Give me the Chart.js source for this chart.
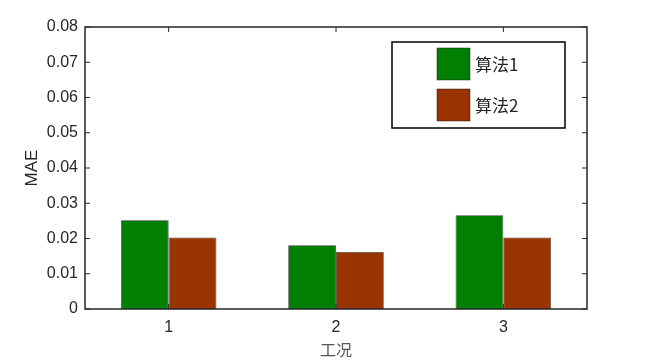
<!DOCTYPE html>
<html>
<head>
<meta charset="utf-8">
<script src="https://cdn.jsdelivr.net/npm/chart.js@4/dist/chart.umd.min.js"></script>
<style>
  html, body { margin: 0; padding: 0; background: #fff; }
  #wrap { width: 650px; height: 361px; }
</style>
</head>
<body>
<div id="wrap"><canvas id="chart"></canvas></div>
<script>
const categories = ['1', '2', '3'];
const seriesNames = ['算法1', '算法2'];
const algo1 = [0.0252, 0.0181, 0.0266];
const algo2 = [0.0203, 0.0162, 0.0203];
const seriesColors = ['#007f00', '#993300'];

const axisColor = '#262626';
const cjkFont = '"Noto Sans CJK SC", serif';
const latinFont = '"Liberation Sans", Arial, sans-serif';

// box around the plot with inward ticks, like the original figure
const boxPlugin = {
    id: 'box',
    afterDatasetsDraw(chart) {
        const { ctx, chartArea: a, scales } = chart;
        ctx.save();
        ctx.strokeStyle = axisColor;
        ctx.lineWidth = 1.5;
        ctx.strokeRect(a.left, a.top, a.right - a.left, a.bottom - a.top);

        ctx.lineWidth = 1;
        ctx.beginPath();
        scales.y.ticks.forEach(t => {
            const y = scales.y.getPixelForValue(t.value);
            ctx.moveTo(a.left, y); ctx.lineTo(a.left + 5, y);
            ctx.moveTo(a.right, y); ctx.lineTo(a.right - 5, y);
        });
        categories.forEach((c, i) => {
            const x = scales.x.getPixelForValue(i);
            ctx.moveTo(x, a.bottom); ctx.lineTo(x, a.bottom - 5);
            ctx.moveTo(x, a.top); ctx.lineTo(x, a.top + 5);
        });
        ctx.stroke();

        // legend
        const lx = 392, ly = 42, lw = 173, lh = 86;
        ctx.fillStyle = '#fff';
        ctx.fillRect(lx, ly, lw, lh);
        ctx.strokeStyle = '#000';
        ctx.lineWidth = 1.5;
        ctx.strokeRect(lx, ly, lw, lh);
        ctx.font = '17px ' + cjkFont;
        ctx.textBaseline = 'middle';
        chart.data.datasets.forEach((ds, i) => {
            const sy = 48 + i * 41;
            ctx.fillStyle = ds.backgroundColor;
            ctx.fillRect(437, sy, 33, 32);
            ctx.strokeStyle = 'rgba(0,0,0,0.6)';
            ctx.lineWidth = 0.7;
            ctx.strokeRect(437, sy, 33, 32);
            ctx.fillStyle = '#222';
            ctx.fillText(ds.label, 475, sy + 17);
        });
        ctx.restore();
    }
};

new Chart(document.getElementById('chart'), {
    type: 'bar',
    data: {
        labels: categories,
        datasets: [
            { label: seriesNames[0], data: algo1, backgroundColor: seriesColors[0] },
            { label: seriesNames[1], data: algo2, backgroundColor: seriesColors[1] }
        ]
    },
    options: {
        responsive: true,
        maintainAspectRatio: false,
        animation: false,
        layout: { padding: { top: 27, right: 63, left: 0, bottom: 0 } },
        datasets: {
            bar: {
                categoryPercentage: 0.571,
                barPercentage: 1,
                borderWidth: 0.8,
                borderColor: 'rgba(0,0,0,0.75)'
            }
        },
        plugins: {
            legend: { display: false },
            tooltip: { enabled: false }
        },
        scales: {
            x: {
                offset: true,
                grid: { display: false, drawTicks: false },
                border: { display: false },
                ticks: { color: axisColor, font: { family: latinFont, size: 16 }, padding: 9 },
                title: {
                    display: true, text: '工况', color: '#555',
                    font: { family: cjkFont, size: 16 },
                    padding: { top: 0, bottom: 1 }
                },
                afterFit(scale) { scale.height = 52; }
            },
            y: {
                min: 0,
                max: 0.08,
                grid: { display: false, drawTicks: false },
                border: { display: false },
                ticks: {
                    stepSize: 0.01,
                    color: axisColor,
                    font: { family: latinFont, size: 16 },
                    padding: 7,
                    callback: v => v === 0 ? '0' : v.toFixed(2)
                },
                title: {
                    display: true, text: 'MAE', color: axisColor,
                    font: { family: latinFont, size: 17 },
                    padding: { top: 22, bottom: 0 }
                },
                afterFit(scale) { scale.width = 85; }
            }
        }
    },
    plugins: [boxPlugin]
});
</script>
</body>
</html>
